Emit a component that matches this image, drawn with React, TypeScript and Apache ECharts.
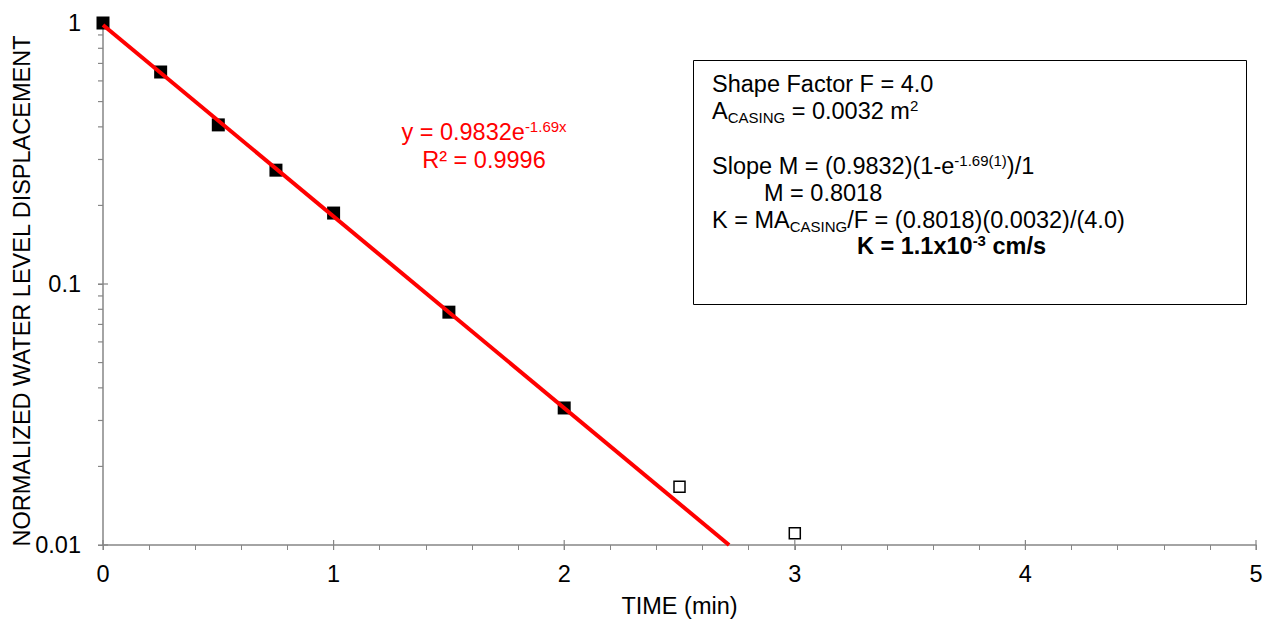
import React, { useEffect, useRef } from 'react';
import * as echarts from 'echarts';

// Measured data (time in minutes, normalized displacement)
const timeMin = [0, 0.25, 0.5, 0.75, 1, 1.5, 2];
const displacement = [1.0, 0.649, 0.407, 0.273, 0.187, 0.078, 0.0335];
// Points excluded from the fit (open squares)
const excludedTime = [2.5, 3];
const excludedDisplacement = [0.0167, 0.0111];
// Exponential trendline y = 0.9832 e^(-1.69x), endpoints (straight on log axis)
const trendTime = [0, 2.715];
const trendDisplacement = [0.9832, 0.01];
// Axis ticks
const xTicks = [0, 1, 2, 3, 4, 5];
const yMajorTicks = [0.01, 0.1, 1];
const yMinorTicks = [0.02, 0.03, 0.04, 0.05, 0.06, 0.07, 0.08, 0.09, 0.2, 0.3, 0.4, 0.5, 0.6, 0.7, 0.8, 0.9];

const FONT = '"Liberation Sans", Arial, sans-serif';
const AXIS = '#868686';
const FS = 23.5;
const SFS = 15;

export default function App() {
  const ref = useRef<HTMLDivElement>(null);
  useEffect(() => {
    if (!ref.current) return;
    const chart = echarts.init(ref.current, undefined, { renderer: 'svg' });
    const zip = (a: number[], b: number[]) => a.map((v, i) => [v, b[i]]);
    const tickData = [
      ...yMinorTicks.map((v) => [0, v, 0]),
      ...yMajorTicks.map((v) => [0, v, 1]),
      ...xTicks.map((v) => [v, 0.01, 2]),
    ];
    const rich = {
      n: { fontSize: FS, fontFamily: FONT, fill: '#000', lineHeight: 27 },
      b: { fontSize: FS, fontFamily: FONT, fill: '#000', lineHeight: 27, fontWeight: 'bold' },
      sup: { fontSize: SFS, fontFamily: FONT, fill: '#000', lineHeight: 27, verticalAlign: 'top' },
      bsup: { fontSize: SFS, fontFamily: FONT, fill: '#000', lineHeight: 27, verticalAlign: 'top', fontWeight: 'bold' },
      sub: { fontSize: SFS, fontFamily: FONT, fill: '#000', lineHeight: 27, verticalAlign: 'bottom' },
      r: { fontSize: FS, fontFamily: FONT, fill: '#ff0000', lineHeight: 27 },
      rsup: { fontSize: SFS, fontFamily: FONT, fill: '#ff0000', lineHeight: 27, verticalAlign: 'top' },
    };
    const txt = (x: number, y: number, text: string, align = 'left', fill = '#000') => ({
      type: 'text',
      x,
      y,
      style: { text, rich, align, verticalAlign: 'middle', fontFamily: FONT, fontSize: FS, fill },
      z: 10,
    });
    chart.setOption({
      animation: false,
      textStyle: { fontFamily: FONT },
      grid: { left: 103, right: 12, top: 23, bottom: 77, containLabel: false, outerBoundsMode: 'none' },
      xAxis: {
        type: 'value',
        min: 0,
        max: 5,
        interval: 1,
        name: 'TIME (min)',
        nameLocation: 'middle',
        nameGap: 49,
        nameTextStyle: { fontSize: FS, color: '#000', fontFamily: FONT },
        axisLine: { onZero: false, lineStyle: { color: AXIS, width: 1.5 } },
        axisTick: { show: true, length: 5, lineStyle: { color: AXIS, width: 1 } },
        minorTick: { show: true, splitNumber: 5, length: 5, lineStyle: { color: AXIS, width: 1 } },
        axisLabel: { fontSize: FS, color: '#000', margin: 17, fontFamily: FONT },
        splitLine: { show: false },
      },
      yAxis: {
        type: 'log',
        logBase: 10,
        min: 0.01,
        max: 1,
        axisLine: { show: true, lineStyle: { color: AXIS, width: 1.5 } },
        axisTick: { show: true, length: 5, lineStyle: { color: AXIS, width: 1 } },
        minorTick: { show: false },
        axisLabel: {
          fontSize: FS,
          color: '#000',
          margin: 22,
          fontFamily: FONT,
          formatter: (v: number) => String(Number(v.toPrecision(3))),
        },
        splitLine: { show: false },
      },
      series: [
        {
          type: 'custom',
          name: 'ticks',
          silent: true,
          clip: false,
          z: 1,
          dimensions: ['x', 'y', 'kind'],
          encode: { x: 0, y: 1 },
          data: tickData,
          renderItem: (params: any, api: any) => {
            const p = api.coord([api.value(0), api.value(1)]);
            const kind = api.value(2);
            let shape;
            if (kind === 0) shape = { x1: p[0] - 5, y1: p[1], x2: p[0], y2: p[1] };
            else if (kind === 1) shape = { x1: p[0] - 5, y1: p[1], x2: p[0] + 5, y2: p[1] };
            else shape = { x1: p[0], y1: p[1] - 5, x2: p[0], y2: p[1] + 5 };
            return { type: 'line', shape, style: { stroke: AXIS, lineWidth: 1.2 } };
          },
        },
        {
          type: 'scatter',
          name: 'Data',
          symbol: 'rect',
          symbolSize: 13,
          itemStyle: { color: '#000', opacity: 1 },
          z: 2,
          data: zip(timeMin, displacement),
        },
        {
          type: 'scatter',
          name: 'Excluded',
          symbol: 'rect',
          symbolSize: 11,
          itemStyle: { color: '#fff', borderColor: '#000', borderWidth: 1.5, opacity: 1 },
          z: 2,
          data: zip(excludedTime, excludedDisplacement),
        },
        {
          type: 'line',
          name: 'Expon. fit',
          symbol: 'none',
          lineStyle: { color: '#ff0000', width: 4 },
          z: 3,
          data: zip(trendTime, trendDisplacement),
        },
      ],
      graphic: [
        {
          type: 'text',
          x: 22,
          y: 291,
          rotation: Math.PI / 2,
          style: {
            text: 'NORMALIZED WATER LEVEL DISPLACEMENT',
            fontFamily: FONT,
            fontSize: FS,
            fill: '#000',
            align: 'center',
            verticalAlign: 'middle',
          },
          z: 10,
        },
        txt(484, 132, '{r|y = 0.9832e}{rsup|-1.69x}', 'center', '#ff0000'),
        txt(484, 160, '{r|R² = 0.9996}', 'center', '#ff0000'),
        {
          type: 'rect',
          shape: { x: 693.5, y: 60.5, width: 553, height: 244 },
          style: { fill: '#fff', stroke: '#000', lineWidth: 1 },
          z: 5,
        },
        txt(712, 84, '{n|Shape Factor F = 4.0}'),
        txt(712, 111, '{n|A}{sub|CASING}{n| = 0.0032 m}{sup|2}'),
        txt(712, 166, '{n|Slope M = (0.9832)(1-e}{sup|-1.69(1)}{n|)/1}'),
        txt(764, 193, '{n|M = 0.8018}'),
        txt(712, 220, '{n|K = MA}{sub|CASING}{n|/F = (0.8018)(0.0032)/(4.0)}'),
        txt(857, 246, '{b|K = 1.1x10}{bsup|-3}{b| cm/s}'),
      ],
    });
    return () => chart.dispose();
  }, []);
  return (
    <div
      ref={ref}
      style={{ position: 'absolute', left: 0, top: 0, width: 1268, height: 622, background: '#fff' }}
    />
  );
}
